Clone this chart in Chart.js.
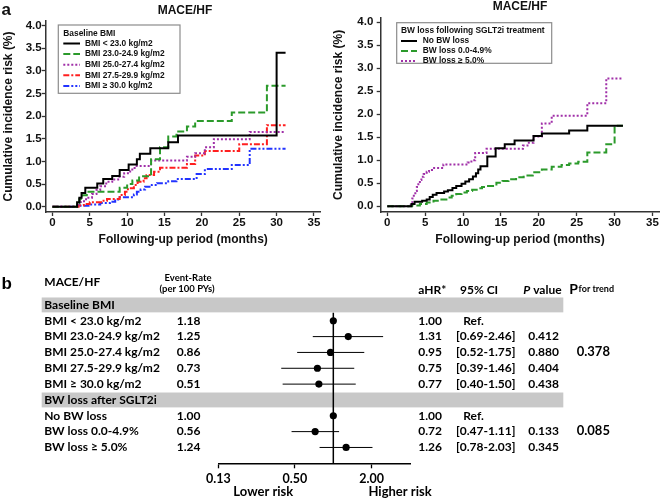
<!DOCTYPE html>
<html><head><meta charset="utf-8">
<script src="https://cdn.jsdelivr.net/npm/chart.js@4.4.1/dist/chart.umd.min.js"></script>
<style>
html,body{margin:0;padding:0;background:#fff;width:660px;height:500px;overflow:hidden}
canvas{position:absolute;display:block}
#c1{left:0;top:0}#c2{left:330px;top:0}#c3{left:0;top:265px}
</style></head><body>
<canvas id="c1" width="330" height="265"></canvas>
<canvas id="c2" width="330" height="265"></canvas>
<canvas id="c3" width="660" height="235"></canvas>
<script>
// ---------- Panel a : Kaplan-Meier style cumulative incidence (MACE/HF) ----------
const monthTicks = [0, 5, 10, 15, 20, 25, 30, 35];
const riskTicks = [0, 0.5, 1.0, 1.5, 2.0, 2.5, 3.0, 3.5, 4.0];

// Baseline BMI groups
const bmiLt23Time = [0, 3.3, 3.6, 3.9, 4.4, 6.0, 6.8, 8.0, 9.0, 10.2, 11.3, 11.7, 13.1, 15.5, 16.8, 30.0, 31.2];
const bmiLt23Risk = [0, 0.10, 0.20, 0.30, 0.42, 0.51, 0.61, 0.68, 0.81, 0.93, 1.05, 1.17, 1.29, 1.42, 1.57, 3.40, 3.40];
const bmi23Time = [0, 3.3, 3.6, 4.0, 4.6, 9.0, 10.0, 10.7, 11.6, 13.2, 14.4, 15.5, 16.6, 18.0, 19.1, 24.0, 28.7, 31.2];
const bmi23Risk = [0, 0.08, 0.17, 0.25, 0.33, 0.42, 0.50, 0.58, 0.67, 1.05, 1.31, 1.55, 1.66, 1.77, 1.89, 2.08, 2.67, 2.67];
const bmi25Time = [0, 3.3, 3.8, 4.5, 5.3, 5.9, 6.4, 7.2, 8.0, 8.8, 9.6, 10.4, 11.0, 13.2, 18.0, 19.1, 20.4, 21.6, 26.4, 31.2];
const bmi25Risk = [0, 0.05, 0.12, 0.20, 0.28, 0.37, 0.45, 0.55, 0.60, 0.66, 0.74, 0.82, 0.90, 1.02, 1.10, 1.18, 1.31, 1.49, 1.65, 1.65];
const bmi275Time = [0, 3.5, 4.2, 5.0, 6.5, 7.3, 9.0, 9.7, 10.1, 10.9, 11.4, 12.2, 12.6, 13.6, 14.4, 18.0, 19.1, 20.4, 25.0, 28.7, 31.2];
const bmi275Risk = [0, 0.03, 0.06, 0.10, 0.13, 0.17, 0.26, 0.33, 0.41, 0.48, 0.55, 0.63, 0.70, 0.77, 0.86, 0.94, 1.13, 1.23, 1.38, 1.80, 1.80];
const bmi30Time = [0, 3.5, 5.0, 6.4, 7.7, 8.4, 9.0, 10.9, 11.3, 11.8, 12.4, 13.3, 14.0, 15.5, 16.6, 19.3, 20.4, 24.0, 26.4, 31.2];
const bmi30Risk = [0, 0.02, 0.05, 0.08, 0.11, 0.16, 0.21, 0.27, 0.33, 0.38, 0.44, 0.48, 0.52, 0.56, 0.61, 0.72, 0.83, 0.92, 1.28, 1.28];

// Body-weight loss groups
const noLossTime = [0, 3.2, 3.6, 4.6, 5.2, 5.6, 6.0, 6.5, 7.5, 8.0, 8.6, 9.1, 9.8, 10.3, 10.8, 11.3, 11.7, 12.0, 12.3, 13.2, 14.3, 15.5, 16.8, 19.3, 20.4, 24.0, 26.4, 31.1];
const noLossRisk = [0, 0.05, 0.10, 0.12, 0.15, 0.20, 0.25, 0.29, 0.32, 0.35, 0.40, 0.44, 0.49, 0.54, 0.59, 0.65, 0.72, 0.80, 0.87, 1.08, 1.26, 1.35, 1.43, 1.53, 1.58, 1.65, 1.75, 1.75];
const loss0Time = [0, 3.2, 4.3, 5.2, 6.1, 7.0, 7.8, 8.5, 9.1, 9.8, 10.5, 11.2, 11.8, 12.5, 13.1, 14.4, 15.2, 16.0, 17.0, 18.0, 19.2, 20.4, 21.7, 23.0, 24.0, 25.2, 26.4, 28.9, 30.0, 31.1];
const loss0Risk = [0, 0.02, 0.05, 0.08, 0.12, 0.15, 0.19, 0.23, 0.27, 0.30, 0.33, 0.36, 0.39, 0.42, 0.44, 0.51, 0.55, 0.59, 0.63, 0.67, 0.74, 0.80, 0.86, 0.90, 0.93, 0.97, 1.17, 1.35, 1.75, 1.75];
const loss5Time = [0, 3.1, 3.3, 3.5, 3.7, 3.9, 4.1, 4.3, 4.5, 4.8, 5.2, 5.5, 5.9, 7.4, 10.6, 11.1, 11.6, 13.1, 17.9, 18.5, 19.3, 20.4, 21.7, 26.4, 28.9, 31.1];
const loss5Risk = [0, 0.08, 0.17, 0.25, 0.33, 0.42, 0.50, 0.57, 0.64, 0.70, 0.75, 0.79, 0.83, 0.91, 0.95, 1.00, 1.16, 1.25, 1.32, 1.38, 1.52, 1.80, 1.97, 2.24, 2.78, 2.78];

// ---------- Panel b : forest plot ----------
const rowNames = ['Baseline BMI', 'BMI < 23.0 kg/m2', 'BMI 23.0-24.9 kg/m2', 'BMI 25.0-27.4 kg/m2', 'BMI 27.5-29.9 kg/m2', 'BMI \u2265 30.0 kg/m2',
                  'BW loss after SGLT2i', 'No BW loss', 'BW loss 0.0-4.9%', 'BW loss \u2265 5.0%'];
const rowIsHeader = [true, false, false, false, false, false, true, false, false, false];
const eventRate = [null, '1.18', '1.25', '0.86', '0.73', '0.51', null, '1.00', '0.56', '1.24'];
const aHR = [null, 1.00, 1.31, 0.95, 0.75, 0.77, null, 1.00, 0.72, 1.26];
const ciLow = [null, null, 0.69, 0.52, 0.39, 0.40, null, null, 0.47, 0.78];
const ciHigh = [null, null, 2.46, 1.75, 1.46, 1.50, null, null, 1.11, 2.03];
const pValue = [null, null, '0.412', '0.880', '0.404', '0.438', null, null, '0.133', '0.345'];
const trendRows = [3, 8];
const trendValues = ['0.378', '0.085'];
const hrTicks = [0.125, 0.5, 2];
const hrTickLabels = ['0.13', '0.50', '2.00'];
const refHR = 1;

const KMFONT = '"Liberation Sans", Arial, sans-serif';
const TBFONT = 'Lato, "Open Sans", sans-serif';
Chart.defaults.font.family = KMFONT;
Chart.defaults.color = '#111';

function toPoints(ts, vs) { return ts.map((t, i) => ({ x: t, y: vs[i] })); }

function kmDecorPlugin(d) {
  return {
    id: 'kmDecor',
    afterDraw(chart) {
      const ctx = chart.ctx;
      ctx.save();
      ctx.fillStyle = '#111';
      ctx.textBaseline = 'middle';
      ctx.textAlign = 'center';
      ctx.font = 'bold 12px ' + KMFONT;
      ctx.fillText('MACE/HF', d.titleX, d.titleY);
      if (d.letter) {
        ctx.textAlign = 'left';
        ctx.textBaseline = 'alphabetic';
        ctx.font = 'bold 17px ' + KMFONT;
        ctx.fillText(d.letter, 1.5, 15);
      }
      const L = d.legend;
      ctx.fillStyle = '#fff';
      ctx.fillRect(L.x, L.y, L.w, L.h);
      ctx.strokeStyle = '#8c8c8c';
      ctx.lineWidth = 1.2;
      ctx.strokeRect(L.x, L.y, L.w, L.h);
      ctx.fillStyle = '#111';
      ctx.textAlign = 'left';
      ctx.textBaseline = 'middle';
      ctx.font = 'bold 8.4px ' + KMFONT;
      ctx.fillText(L.title, L.tx, L.ty);
      chart.data.datasets.forEach((ds, i) => {
        const y = L.ey + i * L.dy;
        ctx.strokeStyle = ds.borderColor;
        ctx.lineWidth = ds.borderWidth;
        ctx.setLineDash(ds.borderDash || []);
        ctx.beginPath();
        ctx.moveTo(L.lx0, y);
        ctx.lineTo(L.lx1, y);
        ctx.stroke();
        ctx.setLineDash([]);
        ctx.fillStyle = '#111';
        ctx.fillText(ds.label, L.textX, y);
      });
      ctx.restore();
    }
  };
}

function kmChart(id, series, g) {
  return new Chart(document.getElementById(id), {
    type: 'line',
    data: {
      datasets: series.map(s => ({
        label: s.label, data: toPoints(s.time, s.risk),
        borderColor: s.color, borderDash: s.dash, borderWidth: 2,
        stepped: true, pointRadius: 0, fill: false
      }))
    },
    options: {
      responsive: false, animation: false, devicePixelRatio: 1,
      layout: { padding: { left: 0, right: g.padRight, top: g.padTop, bottom: 0 } },
      plugins: { legend: { display: false }, tooltip: { enabled: false }, title: { display: false } },
      scales: {
        x: {
          type: 'linear', min: g.xMin, max: 35.9,
          afterBuildTicks: s => { s.ticks = monthTicks.map(v => ({ value: v })); },
          afterFit: s => { s.height = 53; },
          grid: { display: true, drawOnChartArea: false, drawTicks: true, tickLength: 4, tickColor: '#333', tickWidth: 1.3 },
          border: { display: true, color: '#333', width: 1.5 },
          ticks: { color: '#111', font: { size: 11.5, weight: 'bold' }, padding: 0, maxRotation: 0, autoSkip: false },
          title: { display: true, text: 'Following-up period (months)', color: '#111', font: { size: 12, weight: 'bold' }, padding: { top: 0, bottom: 17.8 } }
        },
        y: {
          type: 'linear', min: g.yMin, max: 4.1,
          afterBuildTicks: s => { s.ticks = riskTicks.map(v => ({ value: v })); },
          afterFit: s => { s.width = g.yWidth; },
          grid: { display: true, drawOnChartArea: false, drawTicks: true, tickLength: 4, tickColor: '#333', tickWidth: 1.3 },
          border: { display: true, color: '#333', width: 1.5 },
          ticks: { color: '#111', font: { size: 11.5, weight: 'bold' }, padding: g.yPad, autoSkip: false, callback: v => Number(v).toFixed(1) },
          title: { display: true, text: 'Cumulative incidence risk (%)', color: '#111', font: { size: 12, weight: 'bold' }, padding: { top: 1, bottom: 0 } }
        }
      }
    },
    plugins: [kmDecorPlugin(g.decor)]
  });
}

const GREEN = '#2b9a2b', PURPLE = '#a02fa8', RED = '#ff1f1f', BLUE = '#2233ff';

kmChart('c1', [
  { label: 'BMI < 23.0 kg/m2', time: bmiLt23Time, risk: bmiLt23Risk, color: '#000', dash: [] },
  { label: 'BMI 23.0-24.9 kg/m2', time: bmi23Time, risk: bmi23Risk, color: GREEN, dash: [7, 3] },
  { label: 'BMI 25.0-27.4 kg/m2', time: bmi25Time, risk: bmi25Risk, color: PURPLE, dash: [2, 2] },
  { label: 'BMI 27.5-29.9 kg/m2', time: bmi275Time, risk: bmi275Risk, color: RED, dash: [6, 2, 2, 2] },
  { label: 'BMI \u2265 30.0 kg/m2', time: bmi30Time, risk: bmi30Risk, color: BLUE, dash: [6, 2, 2, 2, 2, 2] }
], {
  padRight: 9.3, padTop: 20.97, xMin: -0.9, yMin: -0.117, yWidth: 45.7, yPad: 0,
  decor: {
    titleX: 185, titleY: 10.8, letter: 'a',
    legend: { x: 58.3, y: 25, w: 121.7, h: 68.3, title: 'Baseline BMI', tx: 63.3, ty: 34,
      ey: 43.5, dy: 10.6, lx0: 63.3, lx1: 80, textX: 85 }
  }
});

kmChart('c2', [
  { label: 'No BW loss', time: noLossTime, risk: noLossRisk, color: '#000', dash: [] },
  { label: 'BW loss 0.0-4.9%', time: loss0Time, risk: loss0Risk, color: GREEN, dash: [7, 3] },
  { label: 'BW loss \u2265 5.0%', time: loss5Time, risk: loss5Risk, color: PURPLE, dash: [2, 2] }
], {
  padRight: 0.7, padTop: 17.7, xMin: -0.87, yMin: -0.124, yWidth: 50.7, yPad: 3.4,
  decor: {
    titleX: 190, titleY: 6.2, letter: null,
    legend: { x: 66.7, y: 22.7, w: 155, h: 40.6, title: 'BW loss following SGLT2i treatment', tx: 71, ty: 30.7,
      ey: 41, dy: 10, lx0: 71, lx1: 87, textX: 92.7 }
  }
});

// ---------- forest plot ----------
const refLine = [{ x: refHR, y: rowIsHeader.indexOf(false) - 0.5 }, { x: refHR, y: rowNames.length }];
const ciSegments = [];
rowNames.forEach((n, i) => {
  if (ciLow[i] != null) {
    ciSegments.push({ x: ciLow[i], y: i }, { x: ciHigh[i], y: i }, { x: ciHigh[i], y: null });
  }
});
const hrPoints = [];
rowNames.forEach((n, i) => { if (aHR[i] != null) hrPoints.push({ x: aHR[i], y: i }); });

const forestDecor = {
  id: 'forestDecor',
  beforeDatasetsDraw(chart) {
    const { ctx } = chart; const y = chart.scales.y;
    ctx.save();
    ctx.fillStyle = '#c8c8c8';
    rowIsHeader.forEach((h, i) => {
      if (!h) return;
      const top = y.getPixelForValue(i - 0.47), bot = y.getPixelForValue(i + 0.47);
      ctx.fillRect(41.7, top, 563.3 - 41.7, bot - top);
    });
    ctx.restore();
  },
  afterDraw(chart) {
    const { ctx } = chart; const y = chart.scales.y;
    ctx.save();
    ctx.fillStyle = '#000';
    ctx.textBaseline = 'middle';
    ctx.textAlign = 'left';
    // panel letter
    ctx.textBaseline = 'alphabetic';
    ctx.font = 'bold 17px ' + KMFONT;
    ctx.fillText('b', 1.5, 23.5);
    ctx.textBaseline = 'middle';
    // headers
    ctx.font = 'bold 12px ' + TBFONT;
    ctx.fillText('MACE/HF', 44.3, 17);
    ctx.textAlign = 'center';
    ctx.font = 'bold 9.5px ' + TBFONT;
    ctx.fillText('Event-Rate', 188, 13);
    ctx.fillText('(per 100 PYs)', 187, 23.5);
    ctx.textAlign = 'left';
    ctx.font = 'bold 12px ' + TBFONT;
    ctx.fillText('aHR*', 418.3, 25);
    ctx.fillText('95% CI', 460, 25);
    ctx.font = 'italic bold 12px ' + TBFONT;
    ctx.fillText('P', 523.3, 25);
    const pw = ctx.measureText('P').width;
    ctx.font = 'bold 12px ' + TBFONT;
    ctx.fillText(' value', 523.3 + pw, 25);
    ctx.font = 'bold 14px ' + TBFONT;
    ctx.fillText('P', 569.3, 24);
    ctx.font = 'bold 9px ' + TBFONT;
    ctx.fillText('for trend', 578.6, 24);
    // rows
    ctx.font = 'bold 12px ' + TBFONT;
    rowNames.forEach((name, i) => {
      const py = y.getPixelForValue(i);
      ctx.fillText(name, 44.3, py);
      if (rowIsHeader[i]) return;
      ctx.fillText(eventRate[i], 176.7, py);
      ctx.fillText(aHR[i].toFixed(2), 418.3, py);
      if (ciLow[i] == null) {
        ctx.fillText('Ref.', 463.3, py);
      } else {
        ctx.fillText('[' + ciLow[i].toFixed(2) + '-' + ciHigh[i].toFixed(2) + ']', 456, py);
        ctx.fillText(pValue[i], 528.3, py);
      }
    });
    ctx.font = 'bold 13px ' + TBFONT;
    trendRows.forEach((r, k) => ctx.fillText(trendValues[k], 576.7, y.getPixelForValue(r) - 1));
    // risk direction labels
    ctx.textAlign = 'center';
    ctx.font = 'bold 13px ' + TBFONT;
    ctx.fillText('Lower risk', 263.3, 227.3);
    ctx.fillText('Higher risk', 400, 227.3);
    ctx.restore();
  }
};

new Chart(document.getElementById('c3'), {
  type: 'scatter',
  data: {
    datasets: [
      { label: 'reference', data: refLine, showLine: true, borderColor: '#000', borderWidth: 1.5, pointRadius: 0 },
      { label: '95% CI', data: ciSegments, showLine: true, spanGaps: false, borderColor: '#000', borderWidth: 1, pointRadius: 0 },
      { label: 'aHR', data: hrPoints, showLine: false, pointRadius: 3.6, pointBackgroundColor: '#000', pointBorderColor: '#000', pointBorderWidth: 0 }
    ]
  },
  options: {
    responsive: false, animation: false, devicePixelRatio: 1,
    layout: { padding: { left: 218.3, right: 250, top: 32, bottom: 0 } },
    plugins: { legend: { display: false }, tooltip: { enabled: false } },
    scales: {
      x: {
        type: 'logarithmic', min: 0.125, max: 4,
        afterBuildTicks: s => { s.ticks = hrTicks.map(v => ({ value: v })); },
        afterFit: s => { s.height = 36.7; },
        grid: { display: true, drawOnChartArea: false, drawTicks: true, tickLength: 5, tickColor: '#000', tickWidth: 1.3 },
        border: { display: true, color: '#000', width: 1.5 },
        ticks: { color: '#000', font: { family: TBFONT, size: 12.5, weight: 'bold' }, padding: 3, maxRotation: 0, autoSkip: false,
          callback: (v, i) => hrTickLabels[i] }
      },
      y: { type: 'linear', display: false, reverse: true, min: -0.5, max: 10 }
    }
  },
  plugins: [forestDecor]
});
</script>
</body></html>
